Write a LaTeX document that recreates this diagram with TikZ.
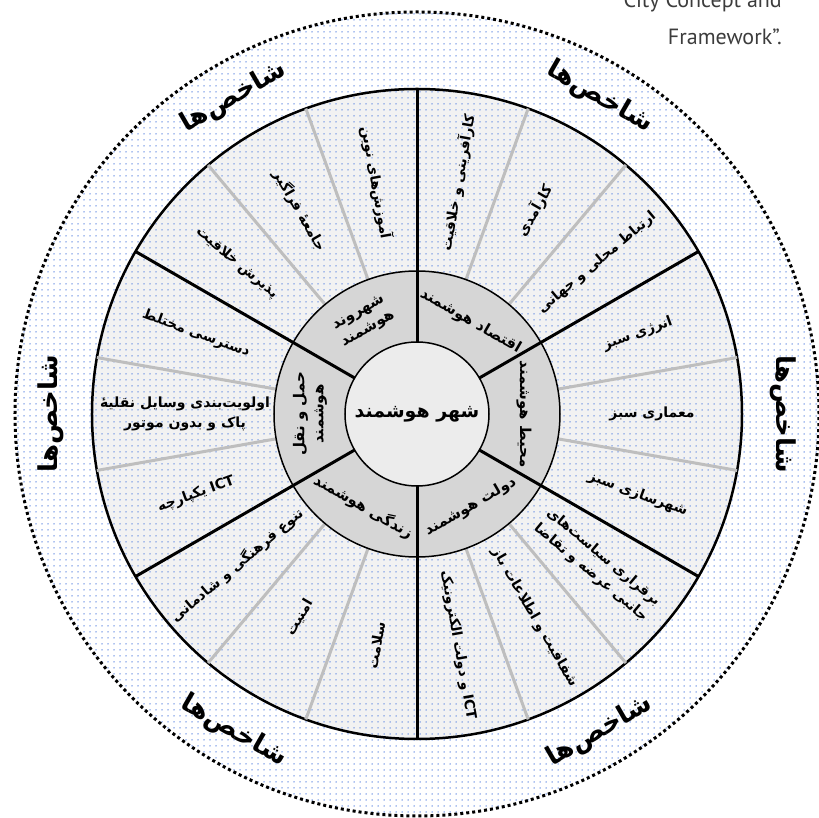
\documentclass[tikz,border=0pt]{standalone}
\usepackage{fontspec}
\usetikzlibrary{patterns.meta}
\TeXXeTstate=1
\newfontfamily\farsi[Script=Arabic]{DejaVu Sans}
\newfontfamily\capfont{PT Sans}
\definecolor{dotblue}{RGB}{95,135,225}
\definecolor{wedgegray}{RGB}{242,242,242}
\definecolor{ringgray}{RGB}{214,214,214}
\definecolor{coregray}{RGB}{236,236,236}
\definecolor{spokegray}{RGB}{190,190,190}
\definecolor{captext}{RGB}{60,60,60}
\newcommand{\rl}[1]{\beginR #1\endR}
\newcommand{\znj}{^^^^200c}
\newcommand{\hmz}{^^^^0654}
\tikzset{
  item/.style={font=\farsi\bfseries\fontsize{14}{20}\selectfont, align=center, inner sep=1pt},
  sect/.style={font=\farsi\bfseries\fontsize{15}{19}\selectfont, align=center, inner sep=1pt},
  idx/.style={font=\farsi\bfseries\fontsize{26}{30}\selectfont, inner sep=1pt},
  hub/.style={font=\farsi\bfseries\fontsize{19}{24}\selectfont, inner sep=1pt},
  dotfill/.style={pattern={Dots[distance=6pt,radius=0.75pt]}, pattern color=dotblue},
  spoke/.style={line width=3pt, spokegray},
  divider/.style={line width=3pt, black},
}
\newcommand{\drawitem}{\node[item]}
\newcommand{\drawsect}{\node[sect]}
\newcommand{\drawidx}{\node[idx]}

\begin{document}
\begin{tikzpicture}
\useasboundingbox (-417pt,-404pt) rectangle (402pt,414pt);
%outer ring of indicators
\path[preaction={fill=white}, dotfill] (0,0) circle (402pt);
\draw[line width=3pt, dash pattern=on 3pt off 3pt] (0,0) circle (402pt);
\draw[line width=2.5pt, preaction={fill=wedgegray}, dotfill] (0,0) circle (325pt);

%grey spokes between items
\draw[spoke] (10:143pt) -- (10:325pt);
\draw[spoke] (-10:143pt) -- (-10:325pt);
\draw[spoke] (50:143pt) -- (50:325pt);
\draw[spoke] (70:143pt) -- (70:325pt);
\draw[spoke] (110:143pt) -- (110:325pt);
\draw[spoke] (130:143pt) -- (130:325pt);
\draw[spoke] (170:143pt) -- (170:325pt);
\draw[spoke] (190:143pt) -- (190:325pt);
\draw[spoke] (230:143pt) -- (230:325pt);
\draw[spoke] (250:143pt) -- (250:325pt);
\draw[spoke] (290:143pt) -- (290:325pt);
\draw[spoke] (310:143pt) -- (310:325pt);

%ring of the six dimensions
\draw[line width=1.5pt, fill=ringgray] (0,0) circle (143pt);
\draw[divider] (30:72pt) -- (30:325pt);
\draw[divider] (90:72pt) -- (90:325pt);
\draw[divider] (150:72pt) -- (150:325pt);
\draw[divider] (210:72pt) -- (210:325pt);
\draw[divider] (270:72pt) -- (270:325pt);
\draw[divider] (330:72pt) -- (330:325pt);
\draw[line width=1.5pt, fill=coregray] (0,0) circle (72pt);

\node[hub] (core) at (0,0) {\rl{شهر هوشمند}};

\drawsect (econ) at (60:107pt) [rotate=-30] {\rl{اقتصاد هوشمند}};
\drawsect (env) at (0:107pt) [rotate=-90] {\rl{محیط هوشمند}};
\drawsect (gov) at (-60:107pt) [rotate=30] {\rl{دولت هوشمند}};
\drawsect (life) at (-120:107pt) [rotate=-30] {\rl{زندگی هوشمند}};
\drawsect (mob) at (180:107pt) [rotate=90] {\rl{حمل و نقل}\\\rl{هوشمند}};
\drawsect (ppl) at (120:107pt) [rotate=30] {\rl{شهروند}\\\rl{هوشمند}};

%items
\drawitem (econa) at (80:235pt) [rotate=80] {\rl{کارآفرینی و خلاقیت}};
\drawitem (econb) at (60:235pt) [rotate=60] {\rl{کارآمدی}};
\drawitem (econc) at (40:235pt) [rotate=40] {\rl{ارتباط محلی و جهانی}};
\drawitem (enva) at (20:235pt) [rotate=20] {\rl{انرژی سبز}};
\drawitem (envb) at (0:235pt) [rotate=0] {\rl{معماری سبز}};
\drawitem (envc) at (-20:235pt) [rotate=-20] {\rl{شهرسازی سبز}};
\drawitem (gova) at (-40:235pt) [rotate=-40] {\rl{برقراری سیاست\znj های}\\\rl{جانبی عرضه و تقاضا}};
\drawitem (govb) at (-60:235pt) [rotate=-60] {\rl{شفافیت و اطلاعات باز}};
\drawitem (govc) at (-80:235pt) [rotate=-80] {\rl{\beginL ICT\endL{} و دولت الکترونیک}};
\drawitem (lifea) at (260:235pt) [rotate=80] {\rl{سلامت}};
\drawitem (lifeb) at (240:235pt) [rotate=60] {\rl{امنیت}};
\drawitem (lifec) at (220:235pt) [rotate=40] {\rl{تنوع فرهنگی و شادمانی}};
\drawitem (moba) at (200:235pt) [rotate=20] {\rl{\beginL ICT\endL{} یکپارچه}};
\drawitem (mobb) at (180:232pt) [rotate=0] {\rl{اولویت\znj بندی وسایل نقلیه\hmz}\\\rl{پاک و بدون موتور}};
\drawitem (mobc) at (160:235pt) [rotate=-20] {\rl{دسترسی مختلط}};
\drawitem (ppla) at (140:235pt) [rotate=-40] {\rl{پذیرش خلاقیت}};
\drawitem (pplb) at (120:235pt) [rotate=-60] {\rl{جامعه\hmz{} فراگیر}};
\drawitem (pplc) at (100:235pt) [rotate=-80] {\rl{آموزش\znj های نوین}};

%indicators
\drawidx (idxa) at (60:366pt) [rotate=-30] {\rl{شاخص\znj ها}};
\drawidx (idxb) at (0:366pt) [rotate=-90] {\rl{شاخص\znj ها}};
\drawidx (idxc) at (-60:366pt) [rotate=30] {\rl{شاخص\znj ها}};
\drawidx (idxd) at (-120:366pt) [rotate=-30] {\rl{شاخص\znj ها}};
\drawidx (idxe) at (180:366pt) [rotate=90] {\rl{شاخص\znj ها}};
\drawidx (idxf) at (120:366pt) [rotate=30] {\rl{شاخص\znj ها}};

\node[font=\capfont\fontsize{22}{37}\selectfont, text=captext, align=right, anchor=south east, inner sep=0] (src) at (365pt,369pt) {City Concept and\\Framework”.};
\end{tikzpicture}
\end{document}
